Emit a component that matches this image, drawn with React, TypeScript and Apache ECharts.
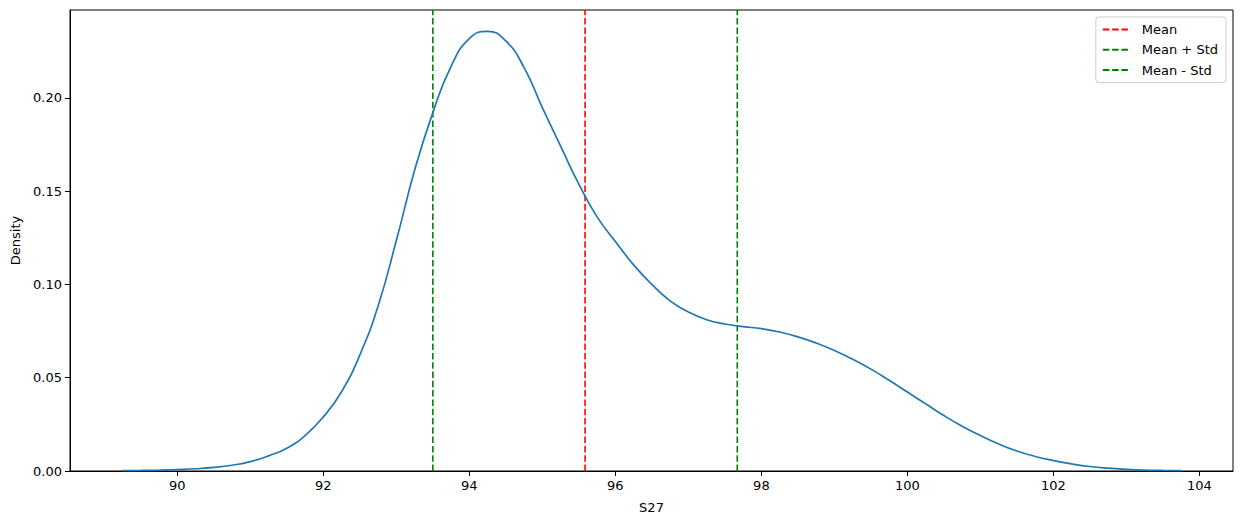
import React, { useEffect, useRef } from "react";
import * as echarts from "echarts";

const kdeX = [
  89.25, 89.5, 89.75, 90.0, 90.25, 90.5, 90.75, 91.0, 91.25, 91.5, 91.75, 92.0,
  92.25, 92.5, 92.75, 93.0, 93.25, 93.5, 93.75, 94.0, 94.25, 94.5, 94.75, 95.0,
  95.25, 95.5, 95.75, 96.0, 96.25, 96.5, 96.75, 97.0, 97.25, 97.5, 97.75, 98.0,
  98.25, 98.5, 98.75, 99.0, 99.25, 99.5, 99.75, 100.0, 100.25, 100.5, 100.75, 101.0,
  101.25, 101.5, 101.75, 102.0, 102.25, 102.5, 102.75, 103.0, 103.25, 103.5, 103.75,
];
const kdeY = [
  0.0002, 0.0003, 0.0005, 0.0008, 0.0012, 0.0019, 0.0031, 0.005, 0.0081, 0.0122, 0.019, 0.029,
  0.0425, 0.0622, 0.0885, 0.1235, 0.1612, 0.1921, 0.2169, 0.2318, 0.2356, 0.2305, 0.2162, 0.1948,
  0.1741, 0.1538, 0.1362, 0.123, 0.1105, 0.1, 0.0912, 0.0852, 0.0811, 0.0788, 0.0774, 0.0763,
  0.0745, 0.0719, 0.0686, 0.0646, 0.0599, 0.0546, 0.0486, 0.0423, 0.036, 0.0297, 0.024, 0.019,
  0.0145, 0.0107, 0.0078, 0.0056, 0.0038, 0.0024, 0.0015, 0.0009, 0.0005, 0.0003, 0.0002,
];
const meanValue = 95.585;
const meanPlusStd = 97.67;
const meanMinusStd = 93.5;
const xTicks = [90, 92, 94, 96, 98, 100, 102, 104];
const yTicks = [0, 0.05, 0.1, 0.15, 0.2];
const xMin = 88.53;
const xMax = 104.46;
const yMin = 0;
const yMax = 0.2471;

const FONT = "DejaVu Sans";

export default function App() {
  const ref = useRef<HTMLDivElement>(null);
  useEffect(() => {
    if (!ref.current) return;
    const chart = echarts.init(ref.current, null, { renderer: "svg" });
    const vline = (x: number) => [
      [x, yMin],
      [x, yMax],
    ];
    const dash = [6.5, 2.8];
    chart.setOption({
      animation: false,
      textStyle: { fontFamily: FONT },
      grid: {
        left: 70,
        right: 9,
        top: 10,
        bottom: 54,
        outerBoundsMode: "none",
        containLabel: false,
        show: true,
        borderColor: "#000",
        borderWidth: 1,
        backgroundColor: "transparent",
      },
      legend: {
        orient: "vertical",
        right: 16,
        top: 17,
        padding: [6, 8, 6, 6],
        itemGap: 7.3,
        itemWidth: 28,
        itemHeight: 14,
        borderColor: "#cccccc",
        borderWidth: 1,
        borderRadius: 3,
        backgroundColor: "#fff",
        itemStyle: { opacity: 0 },
        textStyle: { fontSize: 13, color: "#000", fontFamily: FONT, padding: [0, 0, 0, 6] },
        data: ["Mean", "Mean + Std", "Mean - Std"],
      },
      xAxis: {
        type: "value",
        min: xMin,
        max: xMax,
        name: "S27",
        nameLocation: "middle",
        nameGap: 30,
        nameTextStyle: { fontSize: 13, color: "#000", fontFamily: FONT },
        splitLine: { show: false },
        axisLine: { show: true, onZero: false, lineStyle: { color: "#000", width: 1 } },
        axisTick: {
          show: true,
          length: 5,
          customValues: xTicks,
          lineStyle: { color: "#000" },
        },
        axisLabel: {
          customValues: xTicks,
          fontSize: 13,
          color: "#000",
          margin: 8,
          fontFamily: FONT,
          formatter: (v: number) => String(Math.round(v)),
        },
      },
      yAxis: {
        type: "value",
        min: yMin,
        max: yMax,
        name: "Density",
        nameLocation: "middle",
        nameGap: 47,
        nameTextStyle: { fontSize: 13, color: "#000", fontFamily: FONT },
        splitLine: { show: false },
        axisLine: { show: true, lineStyle: { color: "#000", width: 1 } },
        axisTick: {
          show: true,
          length: 5,
          customValues: yTicks,
          lineStyle: { color: "#000" },
        },
        axisLabel: {
          customValues: yTicks,
          fontSize: 13,
          color: "#000",
          margin: 8,
          fontFamily: FONT,
          formatter: (v: number) => v.toFixed(2),
        },
      },
      series: [
        {
          name: "KDE",
          type: "line",
          data: kdeX.map((x, i) => [x, kdeY[i]]),
          smooth: 0.5,
          showSymbol: false,
          symbol: "none",
          lineStyle: { color: "#1f77b4", width: 1.7 },
          itemStyle: { color: "#1f77b4" },
          z: 3,
        },
        {
          name: "Mean",
          type: "line",
          data: vline(meanValue),
          symbol: "none",
          lineStyle: { color: "#ff0000", width: 1.6, type: dash },
          itemStyle: { color: "#ff0000" },
          z: 2,
        },
        {
          name: "Mean + Std",
          type: "line",
          data: vline(meanPlusStd),
          symbol: "none",
          lineStyle: { color: "#008000", width: 1.6, type: dash },
          itemStyle: { color: "#008000" },
          z: 2,
        },
        {
          name: "Mean - Std",
          type: "line",
          data: vline(meanMinusStd),
          symbol: "none",
          lineStyle: { color: "#008000", width: 1.6, type: dash },
          itemStyle: { color: "#008000" },
          z: 2,
        },
      ],
    });
    return () => chart.dispose();
  }, []);
  return (
    <div
      ref={ref}
      style={{ position: "fixed", left: 0, top: 0, width: 1242, height: 525, background: "#fff" }}
    />
  );
}
